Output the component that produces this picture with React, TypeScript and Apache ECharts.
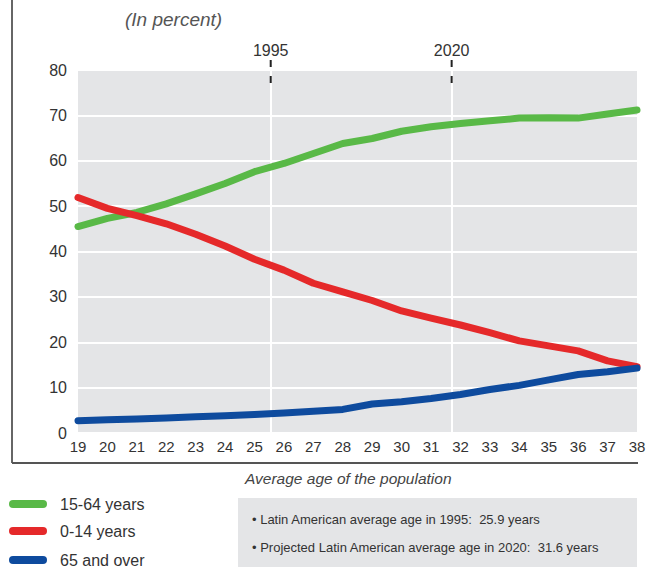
import React, { useEffect, useRef } from "react";
import * as echarts from "echarts";

// Average age of the population (x axis)
const ages = [19, 20, 21, 22, 23, 24, 25, 26, 27, 28, 29, 30, 31, 32, 33, 34, 35, 36, 37, 38];
// Share of the population (%)
const working1564 = [45.5, 47.3, 48.6, 50.5, 52.7, 55.0, 57.6, 59.4, 61.6, 63.8, 64.9, 66.5, 67.5, 68.2, 68.8, 69.4, 69.5, 69.4, 70.3, 71.2];
const children014 = [51.9, 49.5, 47.9, 46.1, 43.8, 41.2, 38.3, 35.9, 33.0, 31.1, 29.2, 26.9, 25.3, 23.8, 22.1, 20.3, 19.2, 18.1, 15.9, 14.6];
const elderly65 = [2.7, 2.9, 3.1, 3.3, 3.6, 3.8, 4.1, 4.4, 4.8, 5.2, 6.4, 6.9, 7.6, 8.5, 9.6, 10.5, 11.7, 12.9, 13.5, 14.3];

const seriesNames = ["15-64 years", "0-14 years", "65 and over"];
const seriesColors = ["#59b947", "#e5292a", "#0e4b9e"];

// Reference years marked on the chart, at the average age reached that year
const markerYears = ["1995", "2020"];
const markerAges = [25.55, 31.7];

const yTicks = { min: 0, max: 80, interval: 10 };
const xTicks = { min: 19, max: 38, interval: 1 };

const titleText = "(In percent)";
const xAxisTitle = "Average age of the population";
const notes = [
  "\u2022 Latin American average age in 1995:  25.9 years",
  "\u2022 Projected Latin American average age in 2020:  31.6 years",
];

const FONT = "'Liberation Sans', Arial, sans-serif";

export default function App() {
  const ref = useRef<HTMLDivElement>(null);

  useEffect(() => {
    if (!ref.current) return;
    const chart = echarts.init(ref.current, null, { renderer: "svg" });
    const values = [working1564, children014, elderly65];

    chart.setOption({
      animation: false,
      textStyle: { fontFamily: FONT },
      grid: {
        left: 78,
        right: 13,
        top: 70,
        bottom: 134,
        show: true,
        backgroundColor: "#e4e5e7",
        borderWidth: 0,
      },
      xAxis: {
        type: "value",
        min: xTicks.min,
        max: xTicks.max,
        interval: xTicks.interval,
        axisLine: { show: false },
        axisTick: { show: false },
        splitLine: { show: false },
        axisLabel: { fontSize: 15, color: "#333", margin: 6, fontFamily: FONT },
      },
      yAxis: {
        type: "value",
        min: yTicks.min,
        max: yTicks.max,
        interval: yTicks.interval,
        axisLine: { show: false },
        axisTick: { show: false },
        splitLine: { show: true, lineStyle: { color: "#ffffff", width: 2 } },
        axisLabel: {
          fontSize: 16,
          color: "#333",
          margin: 11,
          padding: [0, 0, 8, 0],
          fontFamily: FONT,
        },
      },
      series: [
        {
          type: "line",
          name: "__markers",
          data: [],
          z: 1,
          silent: true,
          markLine: {
            z: 1,
            silent: true,
            symbol: "none",
            label: { show: false },
            lineStyle: { color: "#ffffff", width: 2, type: "solid" },
            data: markerAges.map((a) => ({ xAxis: a })),
          },
        },
        ...seriesNames.map((name, k) => ({
          type: "line",
          name,
          z: 3,
          clip: false,
          symbol: "none",
          showSymbol: false,
          data: ages.map((a, i) => [a, values[k][i]]),
          itemStyle: { color: seriesColors[k] },
          lineStyle: { color: seriesColors[k], width: 7, cap: "round", join: "round" },
        })),
      ],
    });

    const top = chart.convertToPixel({ yAxisIndex: 0 }, yTicks.max) as number;
    const graphics: any[] = [];
    markerAges.forEach((a, i) => {
      const x = chart.convertToPixel({ xAxisIndex: 0 }, a) as number;
      graphics.push({
        type: "line",
        z: 10,
        shape: { x1: x, y1: top - 10, x2: x, y2: top + 15 },
        style: { stroke: "#222", lineWidth: 2, lineDash: [7, 9] },
      });
      graphics.push({
        type: "text",
        z: 10,
        x,
        y: top - 20,
        style: {
          text: markerYears[i],
          fontSize: 16,
          fill: "#333",
          fontFamily: FONT,
          align: "center",
          verticalAlign: "middle",
        },
      });
    });
    // frame
    graphics.push({
      type: "line",
      shape: { x1: 12, y1: 0, x2: 12, y2: 463 },
      style: { stroke: "#333", lineWidth: 1.5 },
    });
    graphics.push({
      type: "line",
      shape: { x1: 12, y1: 463, x2: 638, y2: 463 },
      style: { stroke: "#555", lineWidth: 2 },
    });
    graphics.push({
      type: "text",
      x: 125,
      y: 19,
      style: {
        text: titleText,
        fontSize: 19,
        fontStyle: "italic",
        fill: "#555",
        fontFamily: FONT,
        verticalAlign: "middle",
      },
    });
    graphics.push({
      type: "text",
      x: 245,
      y: 478,
      style: {
        text: xAxisTitle,
        fontSize: 15.5,
        fontStyle: "italic",
        fill: "#444",
        fontFamily: FONT,
        verticalAlign: "middle",
      },
    });
    // legend
    const legendY = [504, 531, 560];
    seriesNames.forEach((name, k) => {
      graphics.push({
        type: "rect",
        shape: { x: 9, y: legendY[k] - 4, width: 38, height: 8, r: 4 },
        style: { fill: seriesColors[k] },
      });
      graphics.push({
        type: "text",
        x: 60,
        y: legendY[k],
        style: {
          text: name,
          fontSize: 16,
          fill: "#333",
          fontFamily: FONT,
          verticalAlign: "middle",
        },
      });
    });
    // notes box
    graphics.push({
      type: "rect",
      shape: { x: 238, y: 498, width: 399, height: 80 },
      style: { fill: "#e4e5e7" },
    });
    notes.forEach((t, i) => {
      graphics.push({
        type: "text",
        x: 252,
        y: 519 + i * 28,
        style: {
          text: t,
          fontSize: 13,
          fill: "#333",
          fontFamily: FONT,
          verticalAlign: "middle",
        },
      });
    });
    chart.setOption({ graphic: graphics });

    return () => chart.dispose();
  }, []);

  return (
    <div
      ref={ref}
      style={{ position: "fixed", left: 0, top: 0, width: 650, height: 567, background: "#fff" }}
    />
  );
}
